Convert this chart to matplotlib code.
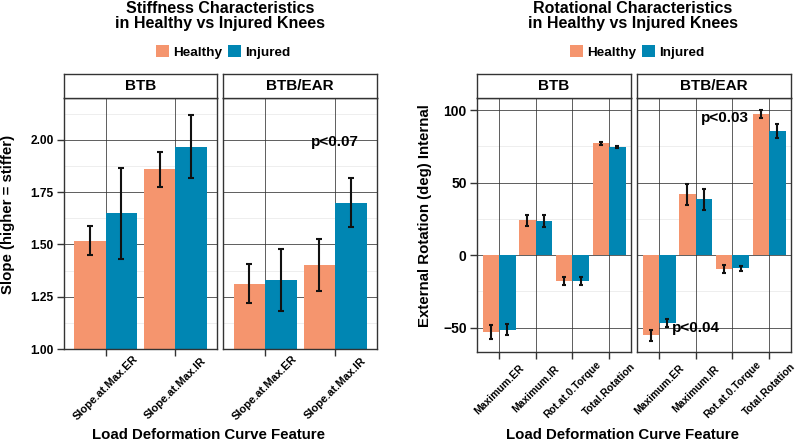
import matplotlib
matplotlib.use('Agg')
import matplotlib.pyplot as plt
from matplotlib.patches import Patch
import numpy as np

plt.rcParams['font.family'] = ['Liberation Sans', 'DejaVu Sans']
plt.rcParams['font.weight'] = 'bold'

# facet groups and series names
groups = ['BTB', 'BTB/EAR']
series = ['Healthy', 'Injured']
colors = ['#F5956E', '#0086B3']

# stiffness chart (rows = groups)
stiff_features = ['Slope.at.Max.ER', 'Slope.at.Max.IR']
stiff_healthy = [[1.518, 1.859], [1.312, 1.400]]
stiff_healthy_se = [[0.070, 0.083], [0.094, 0.124]]
stiff_injured = [[1.648, 1.968], [1.330, 1.699]]
stiff_injured_se = [[0.216, 0.150], [0.148, 0.117]]
stiff_yticks = [1.00, 1.25, 1.50, 1.75, 2.00]
stiff_ylabels = ['1.00', '1.25', '1.50', '1.75', '2.00']

# rotation chart (rows = groups)
rot_features = ['Maximum.ER', 'Maximum.IR', 'Rot.at.0.Torque', 'Total.Rotation']
rot_healthy = [[-53.0, 24.0, -17.9, 77.0], [-55.2, 41.8, -9.7, 97.1]]
rot_healthy_se = [[4.6, 3.7, 2.9, 1.2], [3.7, 7.0, 2.7, 2.9]]
rot_injured = [[-51.3, 23.4, -17.9, 74.7], [-46.7, 38.6, -9.2, 85.3]]
rot_injured_se = [[4.0, 4.3, 2.9, 0.6], [2.7, 7.2, 1.5, 4.8]]
rot_yticks = [-50, 0, 50, 100]
rot_ylabels = ['\u221250', '0', '50', '100']

W, H = 798, 442
fig = plt.figure(figsize=(W / 100, H / 100), dpi=100)


# convert pixel box to figure coordinates
def box(x0, y0, x1, y1):
    return [x0 / W, 1 - y1 / H, (x1 - x0) / W, (y1 - y0) / H]


# draw one facet panel
def draw_panel(ax, feats, healthy, h_se, injured, i_se, ylim, yticks, ylabels,
               first, capsize, tick_fs, label_fs, pad):
    n = len(feats)
    x = np.arange(1, n + 1)
    ax.set_xlim(0.4, n + 0.6)
    ax.set_ylim(*ylim)
    # grid
    minor = [(a + b) / 2 for a, b in zip(yticks[:-1], yticks[1:])]
    step = yticks[1] - yticks[0]
    minor = [yticks[0] - step / 2] + minor + [yticks[-1] + step / 2]
    for m in minor:
        ax.axhline(m, color='#EBEBEB', lw=0.6, zorder=0)
    for t in yticks:
        ax.axhline(t, color='#333333', lw=0.55, zorder=0.5)
    for xi in x:
        ax.axvline(xi, color='#333333', lw=0.55, zorder=0.5)
    # bars
    ax.bar(x - 0.225, healthy, width=0.45, color=colors[0], zorder=2)
    ax.bar(x + 0.225, injured, width=0.45, color=colors[1], zorder=2)
    ax.errorbar(x - 0.225, healthy, yerr=h_se, fmt='none', ecolor='#111111',
                elinewidth=1.5, capsize=capsize, capthick=1.5, zorder=3)
    ax.errorbar(x + 0.225, injured, yerr=i_se, fmt='none', ecolor='#111111',
                elinewidth=1.5, capsize=capsize, capthick=1.5, zorder=3)
    for s in ax.spines.values():
        s.set_color('#333333')
        s.set_linewidth(1.0)
        s.set_zorder(4)
    ax.set_xticks(x)
    ax.set_xticklabels(feats, rotation=45, ha='center', va='center',
                       rotation_mode='anchor', fontsize=label_fs, fontweight='bold')
    ax.tick_params(axis='x', length=5, width=1, color='#333333', pad=pad)
    ax.set_yticks(yticks)
    if first:
        ax.set_yticklabels(ylabels, fontsize=tick_fs, fontweight='bold')
        ax.tick_params(axis='y', length=5, width=1, color='#333333', pad=2.5)
    else:
        ax.tick_params(axis='y', length=0, labelleft=False)


def draw_strip(rect, label):
    sax = fig.add_axes(rect)
    sax.set_xticks([])
    sax.set_yticks([])
    for s in sax.spines.values():
        s.set_color('#333333')
        s.set_linewidth(1.0)
    sax.text(0.5, 0.5, label, ha='center', va='center', fontsize=11,
             fontweight='bold', transform=sax.transAxes)


# ---- stiffness chart ----
stiff_boxes = [(64, 217), (223, 377)]
stiff_axes = []
for gi, (x0, x1) in enumerate(stiff_boxes):
    ax = fig.add_axes(box(x0, 98, x1, 349))
    draw_panel(ax, stiff_features, stiff_healthy[gi], stiff_healthy_se[gi],
               stiff_injured[gi], stiff_injured_se[gi], (1.0, 2.2),
               stiff_yticks, stiff_ylabels, gi == 0, 2.5, 8.6, 8, 23)
    draw_strip(box(x0, 74, x1, 98), groups[gi])
    stiff_axes.append(ax)
stiff_axes[1].text(2, 1.99, 'p<0.07', ha='center', va='center', fontsize=11,
                   fontweight='bold', zorder=5)

# ---- rotation chart ----
rot_boxes = [(477, 631), (637, 791)]
rot_axes = []
for gi, (x0, x1) in enumerate(rot_boxes):
    ax = fig.add_axes(box(x0, 98, x1, 352))
    draw_panel(ax, rot_features, rot_healthy[gi], rot_healthy_se[gi],
               rot_injured[gi], rot_injured_se[gi], (-66.8, 108.3),
               rot_yticks, rot_ylabels, gi == 0, 1.5, 10, 7.5, 22)
    draw_strip(box(x0, 74, x1, 98), groups[gi])
    rot_axes.append(ax)
rot_axes[1].text(2.8, 94.5, 'p<0.03', ha='center', va='center', fontsize=11,
                 fontweight='bold', zorder=5)
rot_axes[1].text(2.02, -50, 'p<0.04', ha='center', va='center', fontsize=11,
                 fontweight='bold', zorder=5)

# titles
fig.text(220 / W, 1 - 16 / H, 'Stiffness Characteristics\nin Healthy vs Injured Knees',
         ha='center', va='center', fontsize=11.5, fontweight='bold', linespacing=1.05)
fig.text(633 / W, 1 - 16 / H, 'Rotational Characteristics\nin Healthy vs Injured Knees',
         ha='center', va='center', fontsize=11.5, fontweight='bold', linespacing=1.05)

# legends
handles = [Patch(facecolor=c) for c in colors]
for cx in (223, 637):
    fig.legend(handles, series, loc='center', bbox_to_anchor=(cx / W, 1 - 52 / H),
               ncol=2, frameon=False, handlelength=1.0, handleheight=1.0,
               handletextpad=0.3, columnspacing=0.4, borderpad=0,
               prop={'size': 9.7, 'weight': 'bold'})

# axis labels
fig.text(208 / W, 1 - 435 / H, 'Load Deformation Curve Feature', ha='center',
         va='center', fontsize=10.8, fontweight='bold')
fig.text(623 / W, 1 - 435 / H, 'Load Deformation Curve Feature', ha='center',
         va='center', fontsize=10.8, fontweight='bold')
fig.text(8 / W, 1 - 214 / H, 'Slope (higher = stiffer)', ha='center', va='center',
         rotation=90, fontsize=10.8, fontweight='bold')
fig.text(425 / W, 1 - 216 / H, 'External Rotation (deg) Internal', ha='center',
         va='center', rotation=90, fontsize=10.8, fontweight='bold')

fig.savefig('out.png', dpi=100)
